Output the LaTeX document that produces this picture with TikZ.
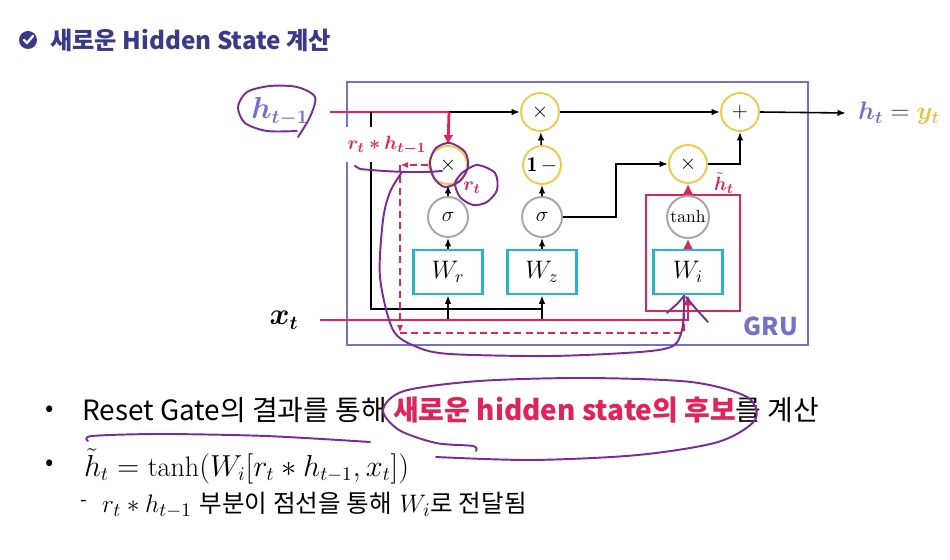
\documentclass[tikz,border=0pt]{standalone}
\usepackage{amsmath,amssymb}
\usepackage{bm}
\usepackage{fontspec}
\usepackage{xcolor}
\usepackage{tikz}
\usetikzlibrary{arrows.meta,positioning,calc}

\newfontfamily\kr{Noto Sans CJK KR}

\definecolor{grublue}{HTML}{7472C8}
\definecolor{grured}{HTML}{E0245A}
\definecolor{gateyellow}{HTML}{F2C84B}
\definecolor{wteal}{HTML}{25B8C0}
\definecolor{titleblue}{HTML}{3B3A8A}
\definecolor{penpurple}{HTML}{7B2A96}
\definecolor{ytgold}{HTML}{E8C040}

\begin{document}
\begin{tikzpicture}[
    x=0.02cm, y=-0.02cm,
    opcirc/.style={circle, draw=gateyellow, line width=1.1pt, fill=white, minimum size=0.76cm, inner sep=0pt, font=\fontsize{12}{14}\selectfont},
    actcirc/.style={circle, draw=black!35, line width=1.1pt, fill=white, minimum size=0.8cm, inner sep=0pt, font=\fontsize{13}{15}\selectfont},
    wbox/.style={draw=wteal, line width=1.5pt, fill=white, minimum width=1.38cm, minimum height=0.88cm, font=\fontsize{14}{16}\selectfont},
    flow/.style={-{Latex[length=1.7mm, width=1.3mm]}, line width=0.9pt},
    redflow/.style={-{Latex[length=2mm, width=2mm]}, line width=1.6pt, draw=grured},
    redline/.style={line width=1.6pt, draw=grured},
    reddash/.style={line width=1.1pt, draw=grured, dashed, dash pattern=on 4pt off 2.5pt},
    pen/.style={draw=penpurple, line width=1.1pt, line cap=round, line join=round}
  ]
  \useasboundingbox (0,0) rectangle (950,560);

  % title
  \node[circle, fill=titleblue, minimum size=0.36cm, inner sep=0pt] (chk) at (28,40) {};
  \draw[white, line width=1.3pt, line cap=round, line join=round] ($(chk)+(-4,0)$) -- ++(3,3) -- ++(6,-7);
  \node[anchor=west, text=titleblue, font=\kr\bfseries\fontsize{13.8}{16}\selectfont] (title) at (44,40) {새로운 Hidden State 계산};

  % GRU cell
  \node[draw=grublue, line width=1.6pt, minimum width=9.22cm, minimum height=5.26cm] (gru) at (577.5,213.5) {};
  \node[text=grublue, font=\kr\bfseries\fontsize{14}{16}\selectfont] (grulabel) at (771,326) {GRU};
  \node[draw=grured, line width=1.6pt, minimum width=1.88cm, minimum height=2.32cm] (cand) at (693,253) {};

  \node[opcirc] (mulh) at (540,112) {$\times$};
  \node[opcirc] (addh) at (740,112) {$+$};
  \node[opcirc] (mulr) at (448,165) {$\times$};
  \node[opcirc] (oneminus) at (542,165) {$\mathbf{1}\,-$};
  \node[opcirc] (mulc) at (688,164) {$\times$};
  \node[actcirc] (sigr) at (448,217) {$\sigma$};
  \node[actcirc] (sigz) at (542,217) {$\sigma$};
  \node[actcirc, minimum size=0.84cm, font=\fontsize{10}{12}\selectfont] (tanhi) at (688,217) {tanh};
  \node[wbox] (wr) at (448,272) {$W_r$};
  \node[wbox] (wz) at (542,272) {$W_z$};
  \node[wbox] (wi) at (688,272) {$W_i$};

  % inputs and output
  \node[text=grublue, font=\fontsize{16}{18}\selectfont] (hprev) at (280,112) {$\bm{h_{t-1}}$};
  \node[font=\fontsize{16}{18}\selectfont] (xt) at (284,320) {$\bm{x_t}$};
  \node[anchor=west, font=\fontsize{14.5}{17}\selectfont] (hout) at (852,113) {${\color{grublue}\bm{h_t}} \mathrel{\color{black!75}=} {\color{ytgold}\bm{y_t}}$};

  \coordinate (hsplit) at (449,112);
  \coordinate (htap) at (371,112);
  \coordinate (hlow) at (371,309);
  \coordinate (dcorner) at (400,165);
  \coordinate (dlow) at (400,333);

  % h_{t-1}
  \draw[redline] ([xshift=0.3cm]hprev.east) -- (hsplit);
  \draw[flow] (hsplit) -- (mulh);
  \draw[redflow] (hsplit) -- (mulr.north);
  \draw[line width=0.9pt] (htap) |- (wz.south |- hlow);
  \node[text=grured, fill=white, inner sep=1pt, minimum height=0.7cm, font=\fontsize{11}{13}\selectfont] (rhlabel) at (387,145) {$\bm{r_t * h_{t-1}}$};

  % x_t
  \draw[flow] (wr.south |- xt.east) -- (wr.south);
  \draw[flow] (wz.south |- xt.east) -- (wz.south);
  \draw[redflow] ([xshift=0.3cm]xt.east) -| (wi.south);

  % reset gate
  \draw[flow] (wr) -- (sigr);
  \draw[flow] (sigr) -- (mulr);
  \node[text=grured, font=\fontsize{11}{13}\selectfont] (rtlabel) at (472,188) {$\bm{r_t}$};
  \draw[reddash, -{Latex[length=1.6mm]}] (mulr.west) -- (dcorner);
  \draw[reddash, -{Latex[length=1.6mm]}] (dcorner) -- (dlow);
  \draw[reddash] (dlow) -| ([xshift=-0.08cm]wi.south);

  % update gate
  \draw[flow] (wz) -- (sigz);
  \draw[flow] (sigz) -- (oneminus);
  \draw[flow] (oneminus) -- (mulh);
  \draw[flow] (sigz.east) -- ++(53,0) |- (mulc.west);
  \draw[flow] (mulh) -- (addh);
  \draw[flow] (mulc.east) -| (addh.south);
  \draw[flow] (addh.east) -- ([xshift=-0.12cm]hout.west);

  % candidate
  \draw[redflow] (wi) -- (tanhi);
  \draw[redflow] (tanhi) -- (mulc);
  \node[text=grured, font=\fontsize{11}{13}\selectfont, inner sep=1pt] (htlabel) at (724,183) {$\bm{\tilde{h}_t}$};

  % text
  \node[font=\kr\fontsize{14}{16}\selectfont] (dot1) at (50,411) {•};
  \node[anchor=west, font=\kr\fontsize{15.9}{18}\selectfont] (line1) at (76,410) {Reset Gate의 결과를 통해 \textcolor{grured}{\bfseries 새로운 hidden state의 후보}를 계산};
  \node[font=\kr\fontsize{14}{16}\selectfont] (dot2) at (50,465) {•};
  \node[anchor=west, font=\fontsize{16}{18}\selectfont, inner sep=1pt] (line2) at (82,466) {$\tilde{h}_t = \tanh(W_i[r_t * h_{t-1}, x_t])$};
  \node[font=\kr\fontsize{11}{13}\selectfont] (dash3) at (84,503) {-};
  \node[anchor=west, font=\fontsize{15}{17}\selectfont] (line3) at (96,505) {$r_t * h_{t-1}$ {\kr\fontsize{14}{16}\selectfont 부분이 점선을 통해} $W_i${\kr\fontsize{14}{16}\selectfont 로 전달됨}};

  % pen marks
  \draw[pen] plot[smooth] coordinates {(298,137) (310,117) (315,97) (297,87) (270,86) (247,92) (238,107) (245,123) (267,131) (297,131)};
  \draw[pen] plot[smooth cycle] coordinates {(450,143) (465,152) (468,167) (460,181) (445,187) (434,178) (430,162) (436,148)};
  \draw[pen] plot[smooth] coordinates {(462,173) (477,165) (495,173) (497,190) (487,202) (473,205) (460,197) (455,183) (462,173)};
  \draw[pen] (355,166) -- (360,169) .. controls (390,172) and (420,173) .. (442,171);
  \draw[pen] plot[smooth] coordinates {(402,172) (390,192) (383,220) (380,277) (393,330) (417,347) (450,354) (550,356) (640,352) (673,346) (682,330) (684,307) (684,296)};
  \draw[pen] (667,313) -- (678,303) -- (684,296);
  \draw[pen] plot[smooth] coordinates {(686,297) (697,310) (708,322)};
  \draw[pen] plot[smooth] coordinates {(88,441) (92,436) (160,434) (266,436) (370,442)};
  \draw[pen] plot[smooth] coordinates {(436,457) (532,460) (638,455) (718,442) (755,420) (747,397) (691,382) (585,378) (479,381) (404,391) (383,410) (399,430) (436,443) (473,446) (476,451)};
\end{tikzpicture}
\end{document}
